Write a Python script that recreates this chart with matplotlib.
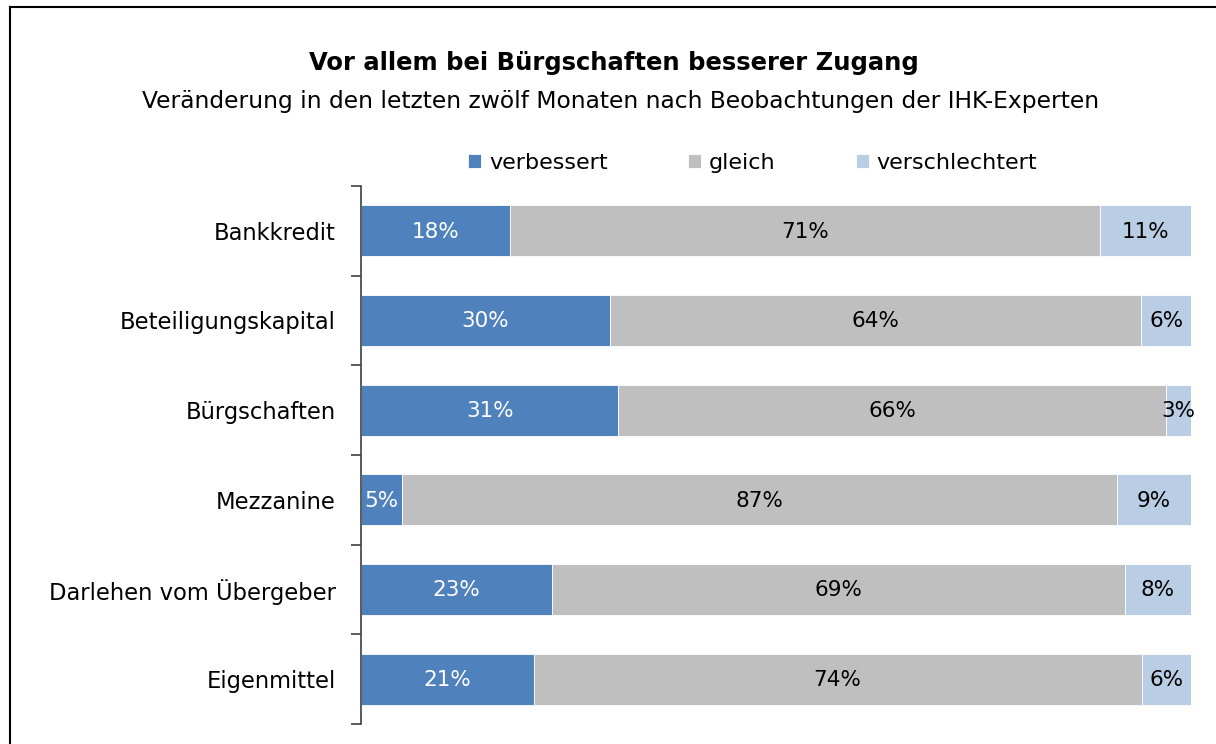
import matplotlib
matplotlib.use("Agg")
import matplotlib.pyplot as plt
import numpy as np
from matplotlib.lines import Line2D

categories = ["Bankkredit", "Beteiligungskapital", "Bürgschaften", "Mezzanine",
              "Darlehen vom Übergeber", "Eigenmittel"]
verbessert = [18, 30, 31, 5, 23, 21]
gleich = [71, 64, 66, 87, 69, 74]
verschlechtert = [11, 6, 3, 9, 8, 6]
series_names = ["verbessert", "gleich", "verschlechtert"]
colors = ["#4F81BD", "#BFBFBF", "#B9CDE5"]
text_colors = ["white", "black", "black"]

title = "Vor allem bei Bürgschaften besserer Zugang"
subtitle = "Veränderung in den letzten zwölf Monaten nach Beobachtungen der IHK-Experten"

plt.rcParams['font.family'] = ['DejaVu Sans']

fig = plt.figure(figsize=(12.16, 7.44), dpi=100)
ax = fig.add_axes([361/1216, 1-724/744, (1191-361)/1216, (724-186)/744])

data = np.array([verbessert, gleich, verschlechtert], dtype=float)
totals = data.sum(axis=0)
shares = data / totals
y = np.arange(len(categories))
left = np.zeros(len(categories))
for i, name in enumerate(series_names):
    bars = ax.barh(y, shares[i], left=left, height=0.57, color=colors[i],
                   edgecolor="white", linewidth=0.6, label=name)
    for j, b in enumerate(bars):
        cx = left[j] + shares[i][j] / 2
        ax.text(cx, y[j] + 0.01, f"{int(data[i][j])}%", ha="center", va="center",
                color=text_colors[i], fontsize=15.5)
    left += shares[i]

ax.set_xlim(0, 1)
ax.set_ylim(len(categories) - 0.5, -0.5)
ax.set_yticks(y)
ax.set_yticklabels(categories, fontsize=16.3)
ax.tick_params(axis="y", length=0, pad=27 - 9)
ax.set_yticks(np.arange(len(categories) + 1) - 0.5, minor=True)
ax.tick_params(axis="y", which="minor", length=7, width=1.2, color="#404040")
ax.set_xticks([])
for s in ["top", "right", "bottom"]:
    ax.spines[s].set_visible(False)
ax.spines["left"].set_color("#404040")
ax.spines["left"].set_linewidth(1.2)

fig.text(0.505, 0.915, title, ha="center", va="center", fontsize=17.5, fontweight="bold")
fig.text(0.51, 0.864, subtitle, ha="center", va="center", fontsize=16.8)

leg = fig.legend(loc="center", bbox_to_anchor=(0.619, 0.781), ncol=3, frameon=False,
                 fontsize=16, handlelength=0.6, handleheight=0.6, handletextpad=0.35,
                 columnspacing=3.6)

fig.add_artist(Line2D([10/1216, 1], [1-7/744, 1-7/744], transform=fig.transFigure,
                      color="black", linewidth=1.5))
fig.add_artist(Line2D([10/1216, 10/1216], [0, 1-7/744], transform=fig.transFigure,
                      color="black", linewidth=1.5))

fig.savefig("out.png", dpi=100)
